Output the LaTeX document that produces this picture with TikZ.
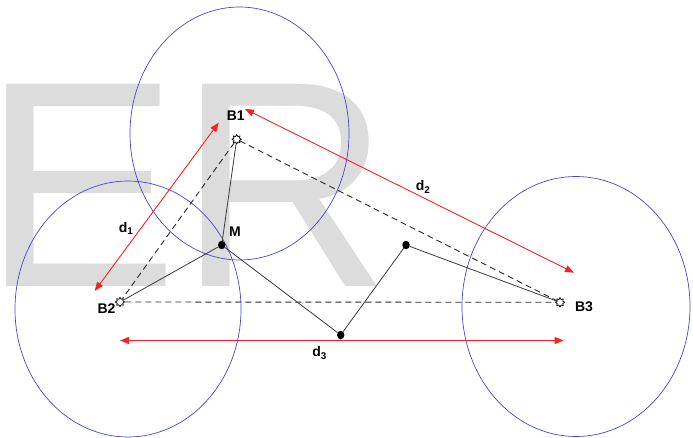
\documentclass[tikz,border=0pt]{standalone}
\usepackage{fontspec}
\setmainfont{Liberation Sans}
\usetikzlibrary{arrows.meta,positioning,shapes.geometric}
\definecolor{trBlue}{HTML}{4848C8}
\definecolor{trRed}{HTML}{F02424}
\definecolor{trMark}{HTML}{DCDCDC}
\definecolor{trLine}{HTML}{3A3A3A}
\definecolor{trDash}{HTML}{2A2A2A}

\begin{document}
\begin{tikzpicture}[x=1pt,y=-1pt,>=Latex,line cap=round,line join=round]
\useasboundingbox (0,0) rectangle (693,438);
\path[fill=white] (0,0) rectangle (693,438);
\node[anchor=base west,inner sep=0pt,text=trMark,font=\fontsize{294}{294}\selectfont] (wm) at (-17.5,287) {ER};
\tikzset{cell/.style={draw=trBlue,line width=0.7pt},station/.style={star,star points=8,star point ratio=1.6,draw=black,fill=white,minimum size=9.5pt,inner sep=0pt,line width=0.7pt},mobile/.style={ellipse,fill=black,minimum width=7.5pt,minimum height=8.5pt,inner sep=0pt},dashlink/.style={draw=trDash,line width=0.9pt,dash pattern=on 6pt off 4pt,line cap=butt},track/.style={draw=trLine,line width=0.8pt},span/.style={draw=trRed,line width=0.9pt,arrows={Triangle[length=9pt,width=7pt]-Triangle[length=9pt,width=7pt]}},lbl/.style={font=\bfseries\fontsize{14}{16}\selectfont,inner sep=0pt}}
\draw[cell] (239.5,133.5) ellipse [x radius=109.5,y radius=126.5];
\draw[cell] (128,309) ellipse [x radius=113,y radius=128];
\draw[cell] (576,306.5) ellipse [x radius=114,y radius=130];
\node[station] (b1) at (236.7,139.3) {}; \node[station] (b2) at (120,302) {}; \node[station] (b3) at (560,302.3) {};
\node[mobile] (m) at (221.7,245) {}; \node[mobile] (p2) at (406,245) {}; \node[mobile] (p3) at (340.7,335) {};
\draw[dashlink] (b1) -- (b2); \draw[dashlink] (b1) -- (b3); \draw[dashlink] (b2) -- (b3);
\draw[track] (b1) -- (m); \draw[track] (m) -- (b2); \draw[track] (m) -- (p3); \draw[track] (p3) -- (p2); \draw[track] (p2) -- (b3);
\coordinate (d1a) at (94.7,291); \coordinate (d1b) at (218.7,122.7);
\coordinate (d2a) at (245,109); \coordinate (d2b) at (574,272.7);
\coordinate (d3a) at (120,340.5); \coordinate (d3b) at (563.6,340.5);
\draw[span] (d1a) -- (d1b); \draw[span] (d2a) -- (d2b); \draw[span,line width=1.4pt] (d3a) -- (d3b);
\node[lbl] (lb1) at (235.7,115.3) {B1}; \node[lbl] (lb2) at (106.5,308.5) {B2}; \node[lbl] (lb3) at (584,306.3) {B3}; \node[lbl] (lm) at (235,231.7) {M};
\node[lbl] (ld1) at (126,228.5) {d\textsubscript{1}}; \node[lbl] (ld2) at (423,187) {d\textsubscript{2}}; \node[lbl] (ld3) at (319.5,353) {d\textsubscript{3}};
\end{tikzpicture}
\end{document}
